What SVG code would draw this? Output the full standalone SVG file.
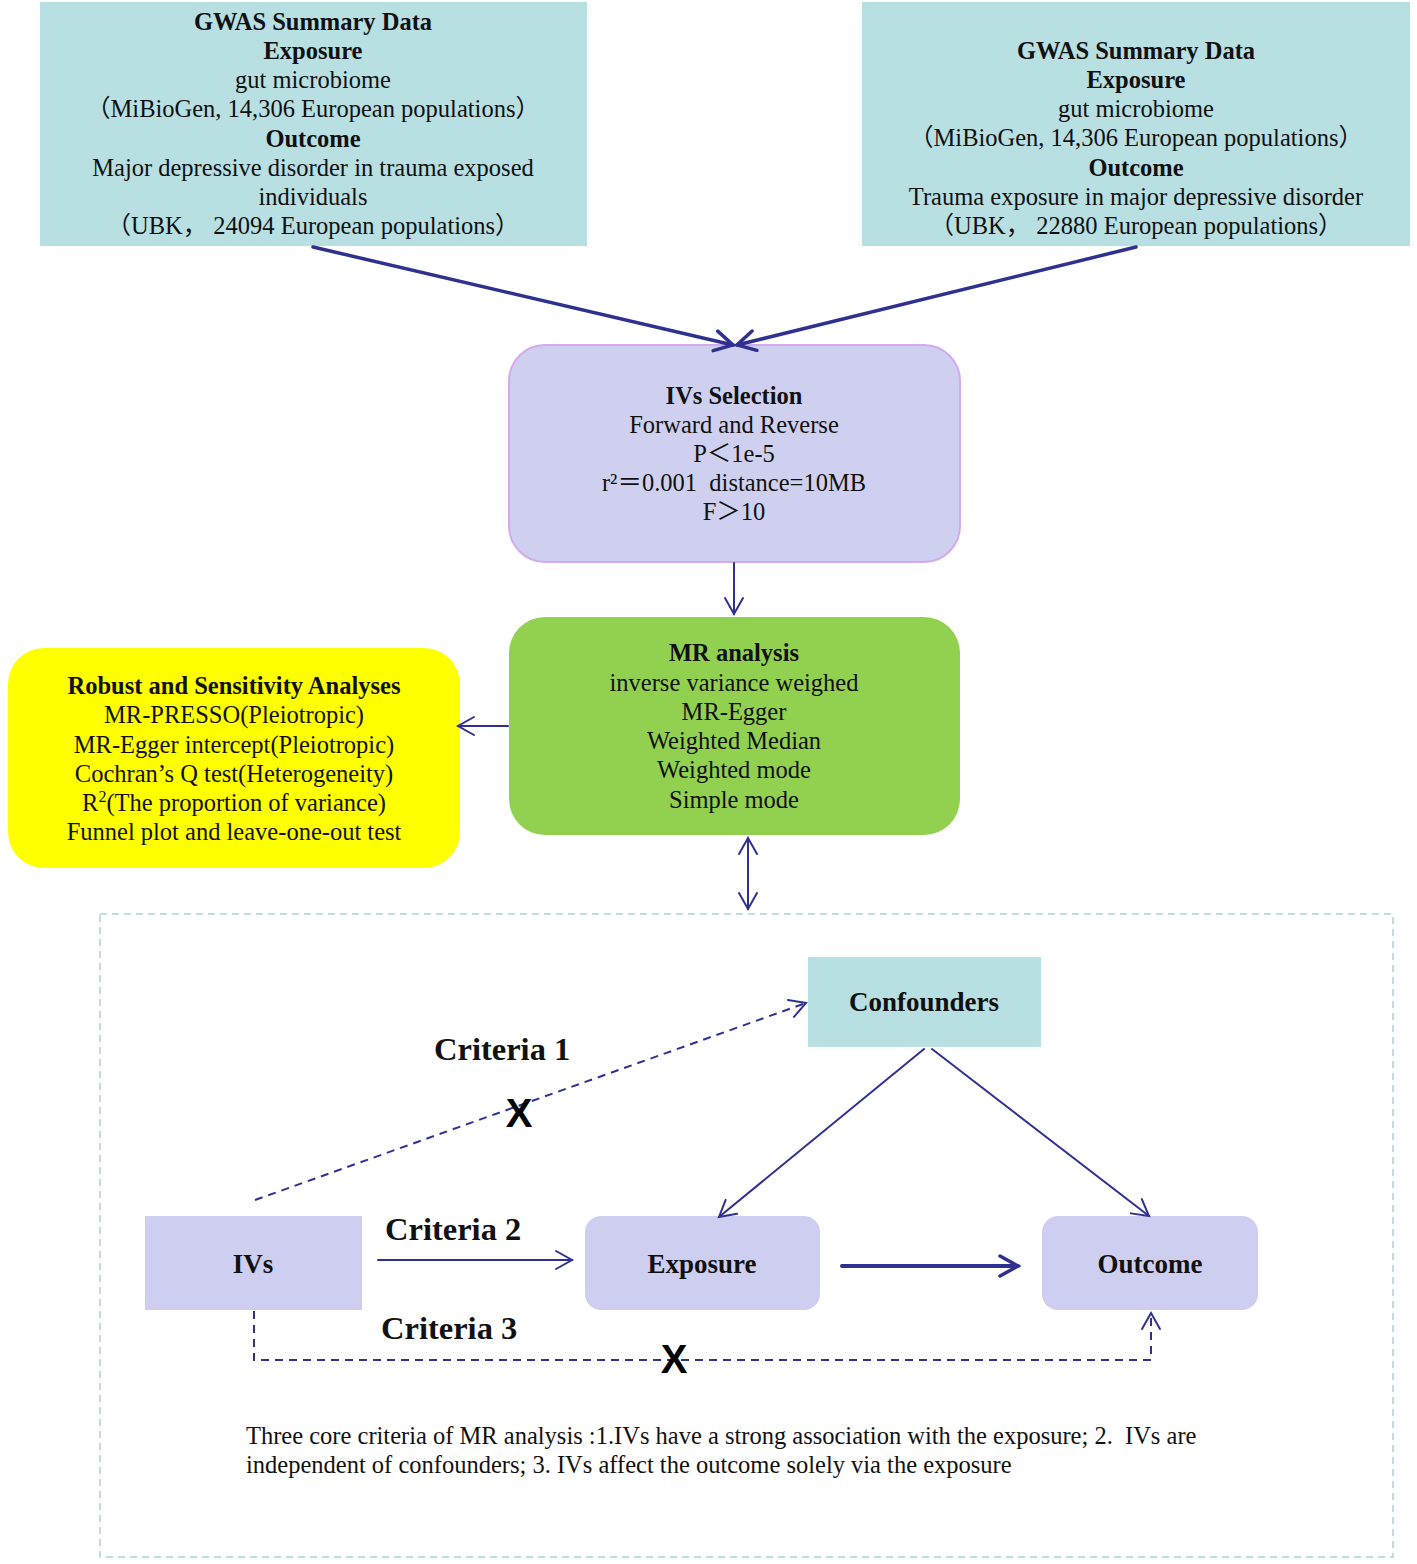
<svg xmlns="http://www.w3.org/2000/svg" width="1417" height="1564" viewBox="0 0 1417 1564">
<style>
text{font-family:"Liberation Serif","Times New Roman","Noto Sans CJK SC",serif;fill:#111;}
.t{font-size:24.5px;text-anchor:middle;}
.b{font-weight:bold;}
.lbl{font-size:27px;font-weight:bold;text-anchor:middle;}
.crit{font-size:32.5px;font-weight:bold;}
.x{font-family:"Liberation Sans",Arial,sans-serif;font-size:40px;font-weight:bold;text-anchor:middle;fill:#000;}
.foot{font-size:24.5px;white-space:pre;}
.teal{fill:#b8dfe2;}
.lav{fill:#cdcef0;}
.ln{fill:none;stroke:#2f3191;stroke-linecap:round;}
.dash{fill:none;stroke:#2f3191;stroke-width:2;stroke-dasharray:8 6;}
</style>
<defs>
<marker id="ah" viewBox="-2 -12 24 24" refX="18" refY="0" markerWidth="24" markerHeight="24" markerUnits="userSpaceOnUse" orient="auto-start-reverse">
<path d="M0,-10 L18,0 L0,10" fill="none" stroke="#2f3191" stroke-width="3.5" stroke-linecap="round" stroke-linejoin="miter"/>
</marker>
<marker id="as" viewBox="-2 -12 24 24" refX="16" refY="0" markerWidth="24" markerHeight="24" markerUnits="userSpaceOnUse" orient="auto-start-reverse">
<path d="M0,-9 L16,0 L0,9" fill="none" stroke="#2f3191" stroke-width="2" stroke-linecap="round"/>
</marker>
</defs>
<rect width="1417" height="1564" fill="#ffffff"/>

<g id="gwas-left">
<rect class="teal" x="40" y="2" width="547" height="244"/>
<text class="t b" x="313" y="30">GWAS Summary Data</text>
<text class="t b" x="313" y="59">Exposure</text>
<text class="t" x="313" y="88">gut microbiome</text>
<text class="t" x="313" y="117">（MiBioGen, 14,306 European populations）</text>
<text class="t b" x="313" y="147">Outcome</text>
<text class="t" x="313" y="176">Major depressive disorder in trauma exposed</text>
<text class="t" x="313" y="205">individuals</text>
<text class="t" x="313" y="234">（UBK， 24094 European populations）</text>
</g>

<g id="gwas-right">
<rect class="teal" x="862" y="2" width="548" height="244"/>
<text class="t b" x="1136" y="59">GWAS Summary Data</text>
<text class="t b" x="1136" y="88">Exposure</text>
<text class="t" x="1136" y="117">gut microbiome</text>
<text class="t" x="1136" y="146">（MiBioGen, 14,306 European populations）</text>
<text class="t b" x="1136" y="176">Outcome</text>
<text class="t" x="1136" y="205">Trauma exposure in major depressive disorder</text>
<text class="t" x="1136" y="234">（UBK， 22880 European populations）</text>
</g>

<g id="ivs-selection">
<rect x="509" y="345" width="451" height="217" rx="36" fill="#cfd0f0" stroke="#d3aaec" stroke-width="2"/>
<text class="t b" x="734" y="404">IVs Selection</text>
<text class="t" x="734" y="433">Forward and Reverse</text>
<text class="t" x="734" y="462">P＜1e-5</text>
<text class="t" x="734" y="491" xml:space="preserve">r²＝0.001  distance=10MB</text>
<text class="t" x="734" y="520">F＞10</text>
</g>

<g id="mr-analysis">
<rect x="509" y="617" width="451" height="218" rx="36" fill="#92d050"/>
<text class="t b" x="734" y="661">MR analysis</text>
<text class="t" x="734" y="691">inverse variance weighed</text>
<text class="t" x="734" y="720">MR-Egger</text>
<text class="t" x="734" y="749">Weighted Median</text>
<text class="t" x="734" y="778">Weighted mode</text>
<text class="t" x="734" y="808">Simple mode</text>
</g>

<g id="robust">
<rect x="8" y="648" width="452" height="220" rx="36" fill="#ffff00"/>
<text class="t b" x="234" y="694">Robust and Sensitivity Analyses</text>
<text class="t" x="234" y="723">MR-PRESSO(Pleiotropic)</text>
<text class="t" x="234" y="753">MR-Egger intercept(Pleiotropic)</text>
<text class="t" x="234" y="782">Cochran’s Q test(Heterogeneity)</text>
<text class="t" x="234" y="811">R<tspan font-size="16" dy="-9">2</tspan><tspan dy="9">(The proportion of variance)</tspan></text>
<text class="t" x="234" y="840">Funnel plot and leave-one-out test</text>
</g>

<g id="criteria-frame">
<rect x="100" y="914" width="1293" height="643" fill="none" stroke="#a9d3d8" stroke-width="1.5" stroke-dasharray="7 5"/>
</g>

<g id="confounders">
<rect class="teal" x="808" y="957" width="233" height="90"/>
<text class="lbl" x="924" y="1011">Confounders</text>
</g>

<g id="ivs">
<rect class="lav" x="145" y="1216" width="217" height="94"/>
<text class="lbl" x="253" y="1273">IVs</text>
</g>

<g id="exposure">
<rect class="lav" x="585" y="1216" width="235" height="94" rx="16"/>
<text class="lbl" x="702" y="1273">Exposure</text>
</g>

<g id="outcome">
<rect class="lav" x="1042" y="1216" width="216" height="94" rx="16"/>
<text class="lbl" x="1150" y="1273">Outcome</text>
</g>

<g id="connectors">
<line class="ln" x1="313" y1="247" x2="733" y2="345" stroke-width="3.5" marker-end="url(#ah)"/>
<line class="ln" x1="1136" y1="247" x2="737" y2="345" stroke-width="3.5" marker-end="url(#ah)"/>
<line class="ln" x1="734" y1="563" x2="734" y2="614" stroke-width="2" marker-end="url(#as)"/>
<line class="ln" x1="508" y1="726" x2="458" y2="726" stroke-width="2" marker-end="url(#as)"/>
<line class="ln" x1="748" y1="838" x2="748" y2="909" stroke-width="2" marker-start="url(#as)" marker-end="url(#as)"/>
<line class="dash" x1="255" y1="1200" x2="806" y2="1003" marker-end="url(#as)"/>
<line class="ln" x1="924" y1="1049" x2="719" y2="1217" stroke-width="2" marker-end="url(#as)"/>
<line class="ln" x1="932" y1="1049" x2="1149" y2="1216" stroke-width="2" marker-end="url(#as)"/>
<line class="ln" x1="378" y1="1260" x2="572" y2="1260" stroke-width="2" marker-end="url(#as)"/>
<line class="ln" x1="842" y1="1266" x2="1018" y2="1266" stroke-width="4" marker-end="url(#ah)"/>
<path class="dash" d="M254,1311 L254,1360 L1151,1360 L1151,1313" marker-end="url(#as)"/>
</g>

<g id="labels">
<text class="crit" x="434" y="1060">Criteria 1</text>
<text class="crit" x="385" y="1240">Criteria 2</text>
<text class="crit" x="381" y="1339">Criteria 3</text>
<text class="x" x="519" y="1127">X</text>
<text class="x" x="674" y="1373">X</text>
<text class="foot" x="246" y="1444" xml:space="preserve">Three core criteria of MR analysis :1.IVs have a strong association with the exposure; 2.  IVs are</text>
<text class="foot" x="246" y="1473">independent of confounders; 3. IVs affect the outcome solely via the exposure</text>
</g>
</svg>
